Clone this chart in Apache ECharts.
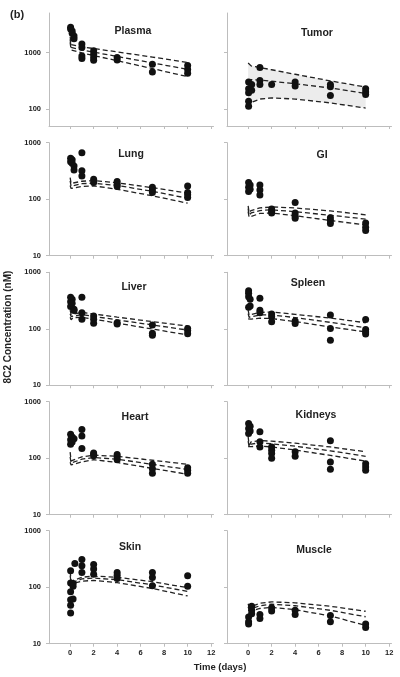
<!DOCTYPE html>
<html><head><meta charset="utf-8">
<script src="https://cdn.jsdelivr.net/npm/echarts@6/dist/echarts.min.js"></script>
<style>html,body{margin:0;padding:0;background:#fff}#c{width:400px;height:677px}</style>
</head><body><div id="c"></div>
<script>
// Model simulation time points (days)
const simT = [0, 0.08, 0.25, 1, 2, 4, 7, 10];
const xTicks = [0, 2, 4, 6, 8, 10, 12];
const yTicksTop = [100, 1000];
const yTicks = [10, 100, 1000];

// Plasma
const plasmaT = [0.04,0.04,0.17,0.17,0.33,0.33,1,1,1,1,2,2,2,2,4,4,7,7,10,10,10];
const plasmaC = [2800,2600,2400,2200,1950,1750,1410,1230,870,780,1070,935,815,730,815,740,620,450,590,500,430];
const plasmaUp  = [1900,1380,1315,1247,1178,1023,830,663];
const plasmaMid = [1700,1230,1180,1110,1014,850,654,504];
const plasmaLo  = [1500,1110,1070,983,885,716,519,373];
// Tumor
const tumorT = [0.04,0.04,0.04,0.04,0.04,0.3,0.3,1,1,1,2,4,4,7,7,7,10,10,10];
const tumorC = [299,228,193,137,112,272,215,540,320,272,272,299,255,272,247,173,228,199,180];
const tumorUp  = [650,610,580,543,495,412,314,245];
const tumorMid = [300,320,330,325,310,280,235,188];
const tumorLo  = [104,115,130,150,157,150,128,104];
// Lung
const lungT = [0.04,0.04,0.17,0.17,0.33,0.33,1,1,1,2,2,4,4,4,7,7,7,10,10,10,10];
const lungC = [530,462,500,432,388,330,666,320,258,226,197,205,184,167,163,146,131,172,131,120,107];
const lungUp  = [240,190,200,208,213,195,160,128];
const lungMid = [210,170,180,188,192,175,138,104];
const lungLo  = [175,155,162,168,172,150,115,85];
// GI
const giT = [0.04,0.04,0.04,0.17,0.17,1,1,1,2,2,2,4,4,4,4,7,7,7,10,10,10];
const giC = [197,163,137,179,150,179,146,119,67,61,57,87,57,50,46,47,42,37,38,32,28];
const giUp  = [76,58,63,70,73,70,62,53];
const giMid = [68,52,57,63,65,60,52,44.5];
const giLo  = [60,48,51,56,57,51,42,35];
// Liver
const liverT = [0.04,0.04,0.04,0.17,0.17,0.33,0.33,1,1,1,2,2,2,4,4,7,7,7,10,10,10];
const liverC = [361,300,247,333,283,222,210,361,193,148,168,148,125,128,122,117,83,77,101,93,82];
const liverUp  = [215,180,190,195,183,161,134,112];
const liverMid = [185,165,175,178,166,144,117,95];
const liverLo  = [160,145,158,160,148,126,99,78];
// Spleen
const spleenT = [0.04,0.04,0.04,0.04,0.17,0.17,1,1,1,2,2,2,4,4,7,7,7,10,10,10,10];
const spleenC = [473,425,371,240,333,254,346,214,193,182,163,133,138,124,176,101,63,146,97,88,81];
const spleenUp  = [215,175,185,195,198,180,155,128];
const spleenMid = [185,160,168,176,176,158,130,104];
const spleenLo  = [150,140,148,154,152,134,108,88];
// Heart
const heartT = [0.04,0.04,0.04,0.17,0.17,0.33,1,1,1,2,2,2,4,4,4,7,7,7,10,10,10];
const heartC = [266,213,176,238,194,222,321,248,148,124,117,111,116,105,94,78,65,54,68,61,54];
const heartUp  = [128,90,97,106,113,108,92,78];
const heartMid = [105,82,88,96,103,96,78,63];
const heartLo  = [85,76,80,86,94,84,66,52];
// Kidneys
const kidneyT = [0.04,0.04,0.04,0.17,0.17,1,1,1,2,2,2,2,4,4,7,7,7,10,10,10];
const kidneyC = [411,335,273,369,304,294,195,158,158,138,121,100,130,108,203,86,64,80,70,61];
const kidneyUp  = [240,170,195,205,200,185,158,130];
const kidneyMid = [200,160,178,187,180,163,135,108];
const kidneyLo  = [160,150,160,165,158,140,112,89];
// Skin
const skinT = [0.04,0.04,0.04,0.04,0.04,0.04,0.25,0.25,0.25,0.4,1,1,1,2,2,2,4,4,4,7,7,7,10,10];
const skinC = [195,119,83,60,48,35,116,104,62,263,310,240,182,252,209,170,182,163,143,182,149,106,159,104];
const skinUp  = [190,128,135,150,157,150,125,98];
const skinMid = [160,120,126,140,145,136,110,84];
const skinLo  = [130,113,117,128,132,120,95,70];
// Muscle
const muscleT = [0.04,0.04,0.04,0.3,0.3,0.3,1,1,2,2,4,4,7,7,10,10];
const muscleC = [29.8,24.5,22.3,46,39,34,33,28,43.5,38,39,33,31.6,24.5,22.3,19.4];
const muscleUp  = [51,44,46,52,55,53,46,37.5];
const muscleMid = [45,40,42,47,50,47,39,30];
const muscleLo  = [39,36,38,42,44,40,31,21];

const panelNames = ['Plasma','Tumor','Lung','GI','Liver','Spleen','Heart','Kidneys','Skin','Muscle'];
const panelData = [
  [plasmaT, plasmaC, plasmaUp, plasmaMid, plasmaLo],
  [tumorT, tumorC, tumorUp, tumorMid, tumorLo],
  [lungT, lungC, lungUp, lungMid, lungLo],
  [giT, giC, giUp, giMid, giLo],
  [liverT, liverC, liverUp, liverMid, liverLo],
  [spleenT, spleenC, spleenUp, spleenMid, spleenLo],
  [heartT, heartC, heartUp, heartMid, heartLo],
  [kidneyT, kidneyC, kidneyUp, kidneyMid, kidneyLo],
  [skinT, skinC, skinUp, skinMid, skinLo],
  [muscleT, muscleC, muscleUp, muscleMid, muscleLo]
];

// layout
const rowTops = [13, 142.7, 272.3, 401.7, 530.7];
const colLefts = [49, 227];
const gridW = 164.5, gridH = 113;
const titlePos = [[133,31],[317,33],[131,154],[322,155],[134,287],[308,283],[135,417],[316,415],[130,547],[314,550]];

const FONT = 'Liberation Sans, Arial, sans-serif';
const pairs = (xs, ys) => xs.map((x, i) => [x, ys[i]]);

const grids = [], xAxes = [], yAxes = [], series = [], graphics = [];
panelNames.forEach((name, i) => {
  const row = Math.floor(i / 2), col = i % 2;
  grids.push({left: colLefts[col], top: rowTops[row], width: gridW, height: gridH});
  const bottomRow = row === 4;
  xAxes.push({
    gridIndex: i, type: 'value', min: -1.8, max: 12.2,
    axisLine: {show: true, onZero: false, lineStyle: {color: '#bdbdbd', width: 1}},
    axisTick: {show: true, length: 3, lineStyle: {color: '#bdbdbd'}, customValues: xTicks},
    axisLabel: {show: bottomRow, customValues: xTicks, margin: 5, fontSize: 7.5, fontWeight: 'bold', color: '#222', fontFamily: FONT},
    splitLine: {show: false}
  });
  const top = row === 0;
  const yt = top ? yTicksTop : yTicks;
  yAxes.push({
    gridIndex: i, type: 'log', logBase: 10,
    min: top ? 50 : 10, max: top ? 5000 : 1000,
    axisLine: {show: true, onZero: false, lineStyle: {color: '#bdbdbd', width: 1}},
    axisTick: {show: true, length: 3, lineStyle: {color: '#bdbdbd'}, customValues: yt},
    axisLabel: {show: col === 0, customValues: yt, formatter: v => String(Math.round(v)), margin: 8, fontSize: 7.5, fontWeight: 'bold', color: '#222', fontFamily: FONT},
    minorTick: {show: false},
    splitLine: {show: false}
  });
  const [T, C, up, mid, lo] = panelData[i];
  if (name === 'Tumor') {
    series.push({type: 'custom', xAxisIndex: i, yAxisIndex: i, data: pairs(simT, up), silent: true, z: 1,
      renderItem: (params, api) => {
        if (params.dataIndex !== 0) return null;
        const pts = simT.map((t, k) => api.coord([t, up[k]]))
          .concat(simT.slice().reverse().map((t, k) => api.coord([t, lo[lo.length - 1 - k]])));
        return {type: 'polygon', shape: {points: pts}, style: {fill: '#ececec'}};
      }});
  }
  [up, mid, lo].forEach(curve => {
    series.push({type: 'line', xAxisIndex: i, yAxisIndex: i, data: pairs(simT, curve), symbol: 'none',
      lineStyle: {color: '#222', width: 1.3, type: [5, 3]}, z: 2, silent: true});
  });
  series.push({type: 'scatter', xAxisIndex: i, yAxisIndex: i, data: pairs(T, C), symbol: 'circle', symbolSize: 7,
    itemStyle: {color: '#111', opacity: 1}, z: 3});
  graphics.push({type: 'text', x: titlePos[i][0], y: titlePos[i][1],
    style: {text: name, fontSize: 10.5, fontWeight: 'bold', fill: '#222', fontFamily: FONT, textAlign: 'center', textVerticalAlign: 'middle'}});
});

graphics.push({type: 'text', x: 10, y: 15, style: {text: '(b)', fontSize: 11, fontWeight: 'bold', fill: '#222', fontFamily: FONT, textVerticalAlign: 'middle'}});
graphics.push({type: 'text', x: 8, y: 327, rotation: Math.PI / 2,
  style: {text: '8C2 Concentration (nM)', fontSize: 10, fontWeight: 'bold', fill: '#222', fontFamily: FONT, textAlign: 'center', textVerticalAlign: 'middle'}});
graphics.push({type: 'text', x: 220, y: 667, style: {text: 'Time (days)', fontSize: 9.5, fontWeight: 'bold', fill: '#222', fontFamily: FONT, textAlign: 'center', textVerticalAlign: 'middle'}});

const chart = echarts.init(document.getElementById('c'), null, {renderer: 'canvas'});
chart.setOption({
  animation: false,
  grid: grids, xAxis: xAxes, yAxis: yAxes, series: series, graphic: graphics
});
</script>
</body></html>
